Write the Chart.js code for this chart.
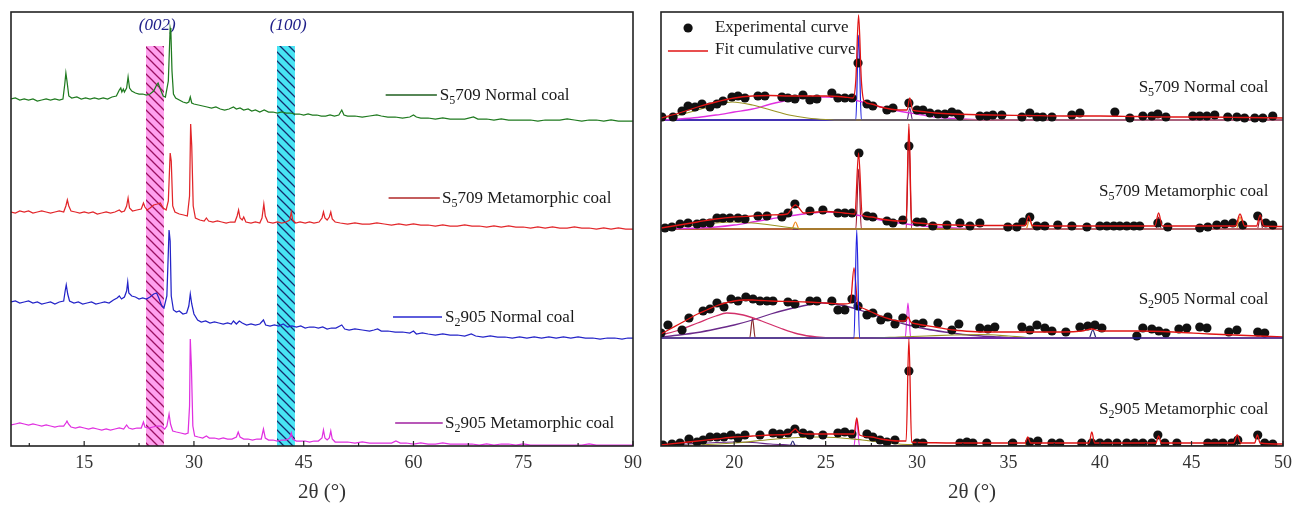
<!DOCTYPE html>
<html lang="en">
<head>
<meta charset="UTF-8">
<title>XRD patterns of coal samples</title>
<script src="https://cdn.jsdelivr.net/npm/chart.js"></script>
<style>
  body { margin: 0; background: #fff; }
  #wrap { position: relative; width: 1292px; height: 506px; }
  canvas { position: absolute; top: 0; }
  #left { left: 0; }
  #right { left: 640px; }
</style>
</head>
<body>
<div id="wrap">
  <canvas id="left" width="645" height="506"></canvas>
  <canvas id="right" width="652" height="506"></canvas>
</div>
<script>
// ---------- data: left panel, [2θ, intensity (a.u., stacked)] ----------
const s5709Normal = [[5,347],[5.6,348],[6.2,346],[6.8,347],[7.4,346],[8,347],[8.6,345],[9.2,346],[9.8,347],[10.4,346],[11,347],[11.6,346],[12.1,347],[12.35,362],[12.5,373],[12.65,365],[12.9,350],[13.3,348],[14,349],[14.6,347],[15.2,348],[15.8,347],[16.4,348],[17,347],[17.6,348],[18.2,347],[18.8,349],[19.4,350],[19.8,356],[20.0,358],[20.15,354],[20.35,357],[20.5,354],[20.8,358],[21.0,369],[21.2,358],[21.5,355],[22,353],[22.5,352],[23,352],[23.5,351],[24,352],[24.5,355],[24.9,361],[25.1,363],[25.4,357],[25.8,350],[26.1,349],[26.5,365],[26.75,418],[26.85,414],[27.0,375],[27.2,352],[27.5,348],[28,346],[28.5,344],[29,343],[29.3,344],[29.5,349],[29.7,343],[30,342],[30.6,341],[31.2,340],[31.8,339],[32.4,338],[33,339],[33.6,337],[34.2,336],[34.8,337],[35.4,339],[35.8,337],[36.3,338],[36.8,336],[37.4,337],[37.9,335],[38.4,336],[39,334],[39.6,336],[40.2,334],[40.8,334],[41.4,333],[42,334],[42.6,333],[43.2,333],[43.8,332],[44.4,332],[45,331],[45.6,332],[46.2,331],[46.8,331],[47.4,330],[48,330],[48.6,331],[49.2,330],[49.8,331],[50.2,336],[50.5,331],[51,330],[52,330],[53,329],[54,330],[55,331],[55.6,330],[56.5,329],[57.5,329],[58.5,328],[59.5,329],[60,331],[60.4,329],[61,328],[62,328],[63,327],[64,328],[65,327],[66,327],[67,327],[68.2,329],[68.8,327],[70,327],[71,326],[72,327],[73,326],[74,326],[75,326],[76,326],[77,325],[78,326],[79,326],[80,326],[81,327],[82,326],[83,325],[84,326],[85,326],[86,325],[87,326],[88,325],[89,325],[90,325]];
const s5709Meta = [[5,234],[5.6,233],[6.2,235],[6.8,234],[7.4,235],[8,233],[8.6,234],[9.2,235],[9.8,234],[10.4,233],[11,234],[11.6,235],[12.2,234],[12.5,240],[12.7,246],[12.9,240],[13.2,235],[13.8,234],[14.4,233],[15,234],[15.6,233],[16.2,234],[16.8,232],[17.4,233],[18,234],[18.6,233],[19.2,234],[19.8,236],[20.1,234],[20.5,235],[20.8,240],[21.0,248],[21.2,238],[21.6,235],[22.2,236],[22.8,237],[23.1,243],[23.3,239],[23.6,236],[24,238],[24.5,241],[25,242],[25.4,243],[25.8,238],[26.2,236],[26.5,245],[26.75,293],[26.9,285],[27.1,240],[27.4,234],[28,232],[28.6,231],[29.1,230],[29.4,250],[29.55,322],[29.7,300],[29.9,240],[30.2,228],[30.8,226],[31.4,225],[31.7,228],[32,225],[32.6,224],[33.2,225],[33.8,224],[34.4,223],[35,224],[35.6,224],[35.9,230],[36.1,236],[36.3,228],[36.6,226],[36.8,229],[37.1,224],[37.8,223],[38.4,224],[39,223],[39.3,228],[39.55,242],[39.75,230],[40.1,224],[40.8,223],[41.4,224],[42,223],[42.6,224],[43.1,226],[43.3,234],[43.5,226],[43.9,223],[44.5,224],[45.2,223],[45.8,224],[46.4,223],[47.1,224],[47.5,228],[47.7,234],[47.9,228],[48.2,226],[48.5,229],[48.7,234],[48.9,227],[49.3,224],[50,223],[51,222],[52,223],[53,222],[54,222],[55,223],[56,222],[57,221],[58,222],[59,221],[60,222],[61,221],[62,221],[63,220],[64,221],[65,220],[66,220],[67,221],[68,220],[69,220],[70,219],[71,220],[72,219],[73,220],[74,219],[75,219],[76,218],[77,219],[78,218],[79,219],[80,218],[81,218],[82,219],[83,218],[84,218],[85,217],[86,218],[87,217],[88,218],[89,217],[90,217]];
const s2905Normal = [[5,144],[5.6,145],[6.2,143],[6.8,144],[7.4,145],[8,143],[8.6,144],[9.2,142],[9.8,143],[10.4,144],[11,142],[11.6,144],[12.2,145],[12.4,155],[12.55,161],[12.75,152],[13,145],[13.6,143],[14.2,144],[14.8,142],[15.4,143],[16,144],[16.6,142],[17.2,143],[17.8,144],[18.4,143],[19,146],[19.5,148],[19.8,150],[20.1,147],[20.5,149],[20.8,155],[20.95,164],[21.1,153],[21.5,150],[22,149],[22.5,147],[23,148],[23.5,147],[24,149],[24.5,152],[24.9,153],[25.2,148],[25.6,140],[25.9,138],[26.3,150],[26.6,216],[26.75,205],[26.9,150],[27.2,136],[27.6,134],[28,135],[28.5,132],[29,133],[29.3,140],[29.5,152],[29.7,142],[30,132],[30.5,126],[31,124],[31.6,125],[32.2,123],[32.8,124],[33.4,123],[34,122],[34.6,123],[35.1,122],[35.4,125],[35.8,122],[36.2,125],[36.6,123],[37.2,121],[37.8,122],[38.4,121],[39,122],[39.5,126],[39.8,121],[40.4,120],[41,121],[41.6,120],[42.2,122],[42.8,119],[43.4,120],[44,119],[44.6,120],[45.2,118],[45.8,119],[46.4,119],[47,118],[47.6,119],[48.2,117],[48.8,118],[49.4,118],[50.2,121],[50.6,117],[51.2,116],[52,117],[53,116],[54,115],[54.6,116],[55.1,117],[55.6,115],[56.5,115],[57.5,114],[58.5,114],[59.5,113],[60,115],[60.4,112],[61.2,113],[62,112],[63,111],[64,112],[65,111],[66,111],[67,110],[67.9,112],[68.5,110],[69.5,109],[70.5,110],[71.5,109],[72.5,109],[73.5,108],[74.5,109],[75.5,108],[76.5,109],[77.5,108],[78.5,109],[79.5,108],[80.5,109],[81.5,108],[82.5,109],[83.5,108],[84.5,108],[85.5,107],[86.5,108],[87.5,108],[88.5,107],[89.3,108],[90,108]];
const s2905Meta = [[5,21],[5.6,22],[6.2,23],[6.8,22],[7.4,21],[8,22],[8.6,21],[9.2,20],[9.8,21],[10.4,20],[11,19],[11.6,20],[12.2,20],[12.5,23],[12.65,25],[12.85,22],[13.2,19],[13.8,18],[14.4,19],[15,18],[15.6,17],[16.2,18],[16.8,17],[17.4,16],[18,17],[18.6,16],[19.2,17],[19.8,18],[20.4,17],[20.8,21],[21.1,18],[21.6,17],[22.2,18],[22.8,18],[23.1,24],[23.3,19],[23.8,18],[24.4,19],[25,20],[25.5,20],[26,17],[26.3,20],[26.6,32],[26.8,22],[27.1,15],[27.6,14],[28.2,13],[28.8,12],[29.2,13],[29.4,40],[29.5,107],[29.65,80],[29.85,20],[30.1,10],[30.6,9],[31.2,8],[31.7,10],[32.1,8],[32.8,8],[33.4,7],[34,8],[34.6,7],[35.2,7],[35.8,9],[36.05,14],[36.3,9],[36.8,7],[37.4,7],[38,6],[38.6,7],[39.2,7],[39.5,17],[39.75,8],[40.2,6],[40.8,6],[41.4,5],[42,6],[42.6,6],[43.1,8],[43.3,13],[43.5,7],[44,5],[44.6,5],[45.2,5],[45.8,4],[46.4,5],[47,5],[47.5,8],[47.7,16],[47.9,8],[48.2,6],[48.5,8],[48.7,15],[48.9,7],[49.3,4],[50,4],[51,4],[52,3],[53,4],[54,3],[55,3],[56,3],[57,3],[57.6,5],[58.2,3],[59,3],[60,2],[61,3],[62,2],[63,2],[64,3],[65,2],[66,2],[67,2],[68,2],[69,1],[70,2],[71,1],[72,2],[73,2],[74,1],[75,2],[76,1],[77,1],[78,1],[79,1],[80,1],[81,1],[82,1],[83,1],[84,2],[85,1],[86,1],[87,1],[88,1],[89,1],[90,1]];

const leftMajorTicks = [15, 30, 45, 60, 75, 90];
const leftMinorTicks = [7.5, 22.5, 37.5, 52.5, 67.5, 82.5];
const bandRanges = [[23.45, 25.9], [41.35, 43.8]];
const bandNames = ['(002)', '(100)'];
const bandTop = 400;

// ---------- data: right panel, [2θ, intensity above the sub-plot baseline] ----------
const baseOffsets = [326, 217, 108, 0];
const sampleSub = ['5', '5', '2', '2'];
const sampleRest = ['709 Normal coal', '709 Metamorphic coal', '905 Normal coal', '905 Metamorphic coal'];

// S5709 normal coal
const n1Exp = [[16.05,3],[16.66,3],[17.15,9],[17.48,14],[17.86,13],[18.24,16],[18.68,13],[19.06,16],[19.39,19],[19.88,23],[20.21,24],[20.59,22],[21.3,24],[21.68,24],[22.61,23],[22.94,22],[23.32,21],[23.76,25],[24.14,20],[24.52,21],[25.34,27],[25.67,22],[26.05,22],[26.44,22],[26.77,57],[27.26,16],[27.58,14],[28.35,10],[28.68,12],[29.55,17],[29.99,10],[30.32,10],[30.7,7],[31.14,6],[31.52,6],[31.9,8],[32.23,6],[32.34,4],[33.43,4],[33.81,4],[34.14,5],[34.63,5],[35.73,3],[36.16,7],[36.55,3],[36.87,3],[37.37,3],[38.46,5],[38.9,7],[40.81,8],[41.63,2],[42.34,4],[42.83,4],[43.16,6],[43.6,3],[45.07,4],[45.45,4],[45.84,4],[46.27,5],[46.98,3],[47.48,3],[47.9,2],[48.46,2],[48.9,2],[49.44,4]];
const n1Fit = [[16,2],[17,7],[18,13],[19,18],[20,22],[21,24],[22,24.5],[23,24],[24,24],[25,24],[26,23],[26.5,22],[26.65,40],[26.8,105],[26.95,40],[27.1,19],[27.5,16],[28,13],[29,10],[29.45,10],[29.6,22],[29.75,10],[30,9],[31,7],[32,6],[34,5],[36,4.5],[38,4],[40,4],[42,3.5],[44,3],[46,3],[48,2.5],[50,2]];
const n1Olive = [[16,2],[17,5],[18,10],[19,15],[19.9,18],[21,15],[22,10],[23,5],[24,2],[25,0.5],[26,0],[50,0]];
const n1Magenta = [[16,0],[17,1],[18,2.5],[19,5],[20,8],[21,11],[22,16],[23,20],[24,22.5],[25,23],[26,22],[27,18],[28,13],[29,9],[30,6],[31,3],[32,1.5],[33,0.5],[34,0],[50,0]];
const n1Blue = [[16,0],[26.65,0],[26.8,85],[26.95,0],[50,0]];
const n1Purple = [[16,0],[29.45,0],[29.6,12],[29.75,0],[50,0]];

// S5709 metamorphic coal
const m1Exp = [[16.22,1],[16.6,2],[17.04,5],[17.48,6],[17.97,5],[18.3,6],[18.68,6],[19.06,11],[19.39,11],[19.77,11],[20.21,11],[20.59,10],[21.3,13],[21.79,13],[22.61,12],[22.94,16],[23.32,25],[24.14,18],[24.85,19],[25.67,16],[26.05,16],[26.44,16],[26.82,76],[27.26,13],[27.58,12],[28.35,8],[28.68,6],[29.22,9],[29.55,83],[29.99,7],[30.32,7],[30.86,3],[31.63,4],[32.34,6],[32.89,3],[33.43,6],[34.96,2],[35.45,2],[35.78,7],[36.16,12],[36.55,3],[36.98,3],[37.69,4],[38.46,3],[39.28,2],[39.99,3],[40.37,3],[40.75,3],[41.08,3],[41.46,3],[41.85,3],[42.17,3],[43.16,6],[43.7,2],[45.45,1],[45.89,2],[46.38,4],[46.82,5],[47.26,6],[47.8,4],[48.62,13],[49.06,6],[49.44,4]];
const m1Fit = [[16,1],[17,4],[18,7],[19,10],[20,12],[21,13],[22,14],[22.9,15],[23.2,22],[23.35,24],[23.5,22],[23.8,16],[24.5,17],[25,17.5],[26,16],[26.6,15],[26.8,76],[27.0,14],[27.5,12],[28,10],[29,8],[29.4,8],[29.55,105],[29.7,8],[30,6],[31,4.5],[32,4],[34,3.5],[35.9,3.5],[36.1,13],[36.3,3.5],[38,3],[43,3],[43.2,16],[43.4,3],[47.4,3],[47.65,15],[47.9,3],[48.55,3],[48.75,14],[48.95,3],[50,2.5]];
const m1Olive = [[16,0.5],[17,2],[18,4],[19,6],[20,7],[21,6],[22,4],[23,1.5],[23.5,0.5],[24,0],[50,0]];
const m1Magenta = [[16,0],[18,1],[19,2],[20,4],[21,7],[22,10],[23,13],[24,15.5],[25,17],[26,16],[27,13],[28,9],[29,6],[30,3.5],[31,2],[32,1],[34,0],[50,0]];
const m1Orange = [[16,0],[23.15,0],[23.35,7],[23.55,0],[35.95,0],[36.15,9],[36.35,0],[47.45,0],[47.65,12],[47.85,0],[50,0]];
const m1Crimson = [[16,0],[26.65,0],[26.8,60],[26.95,0],[29.4,0],[29.55,95],[29.7,0],[43.05,0],[43.2,12],[43.35,0],[48.6,0],[48.75,11],[48.9,0],[50,0]];

// S2905 normal coal
const n2Exp = [[16.0,5],[16.38,13],[17.15,8],[17.53,20],[18.3,27],[18.68,29],[19.06,35],[19.44,31],[19.83,39],[20.21,37],[20.64,41],[21.03,39],[21.41,37],[21.79,37],[22.12,37],[22.94,36],[23.32,34],[24.14,37],[24.52,37],[25.34,37],[25.67,28],[26.05,28],[26.44,39],[26.77,32],[27.26,23],[27.58,25],[28.02,18],[28.4,21],[28.79,14],[29.22,20],[29.93,14],[30.32,15],[31.14,15],[31.9,8],[32.28,14],[33.43,10],[33.87,9],[34.25,11],[35.73,11],[36.16,8],[36.55,13],[36.98,10],[37.37,7],[38.13,6],[38.9,11],[39.33,12],[39.72,13],[40.1,10],[42.01,2],[42.34,10],[42.83,9],[43.21,7],[43.6,5],[44.31,9],[44.74,10],[45.45,11],[45.84,10],[47.04,6],[47.48,8],[48.62,6],[49.0,5]];
const n2Fit = [[16,4],[16.5,9],[17,14],[17.5,19],[18,24],[18.5,28],[19,32],[19.5,35],[20,37],[20.5,38],[21,38],[21.5,37.5],[22,37],[23,36.5],[24,36],[25,35],[26,34],[26.35,35],[26.55,70],[26.75,34],[27,30],[27.5,26],[28,22],[28.5,19],[29,17],[29.35,17],[29.5,21],[29.65,16],[30,14],[31,11],[32,8],[33,6.5],[34,6],[36,6],[38,6],[39,7],[39.55,9],[40,7],[42,7],[44,6],[46,4],[48,2.5],[50,1]];
const n2Crimson = [[16,3],[17,8],[18,15],[19,22],[19.6,25],[20.5,23],[21.5,17],[22.5,10],[23.5,4],[24.5,1],[25.5,0],[50,0]];
const n2Purple = [[16,1],[17,3],[18,5.5],[19,9],[20,13],[21,18],[22,24],[23,29],[24,33],[24.8,35],[25.5,34],[26.5,30],[27.5,24],[28.5,18],[29.5,13],[30.5,9],[31.5,6],[32.5,3.5],[33.5,2],[34.5,1],[35.5,0],[50,0]];
const n2Brown = [[16,0],[20.85,0],[21.0,20],[21.15,0],[50,0]];
const n2Blue = [[16,0],[26.55,0],[26.7,108],[26.85,0],[50,0]];
const n2Magenta = [[16,0],[29.35,0],[29.5,35],[29.65,0],[50,0]];
const n2Olive = [[16,0],[27.5,0],[29,1],[30.5,2],[32,3],[33.5,3.5],[35,2],[36,0.5],[37,0],[50,0]];
const n2Navy = [[16,0],[39.4,0],[39.6,8],[39.8,0],[50,0]];

// S2905 metamorphic coal
const m2Exp = [[16.11,1],[16.6,2],[17.04,3],[17.53,7],[17.97,4],[18.3,6],[18.68,9],[19.06,9],[19.44,9],[19.83,11],[20.21,8],[20.59,11],[21.41,11],[22.12,13],[22.5,12],[22.94,13],[23.32,17],[23.76,13],[24.14,11],[24.85,11],[25.67,13],[26.05,14],[26.44,12],[27.26,12],[27.58,9],[27.97,6],[28.35,4],[28.79,6],[29.55,75],[29.99,3],[30.32,3],[32.34,3],[32.72,4],[33.05,3],[33.81,3],[35.23,3],[36.16,4],[36.6,5],[37.37,3],[37.8,3],[39.0,3],[39.55,3],[39.99,3],[40.43,3],[40.92,3],[41.46,3],[41.9,3],[42.34,3],[42.83,3],[43.16,11],[43.54,3],[44.2,3],[45.89,3],[46.27,3],[46.71,3],[47.2,3],[47.53,6],[48.62,11],[49.0,3],[49.44,2]];
const m2Fit = [[16,1],[17,3],[18,5],[19,7],[20,9],[21,10],[22,11],[23,12],[23.2,15],[23.35,17],[23.5,14],[24,12],[25,12],[26,12],[26.55,12],[26.7,28],[26.85,11],[27.5,9],[28,7],[29,5],[29.4,5],[29.55,107],[29.7,4],[30,3.5],[32,3],[35.9,3],[36.05,9],[36.2,3],[39.4,3],[39.55,14],[39.7,3],[43.05,3],[43.2,10],[43.35,3],[47.3,3],[47.5,11],[47.7,3],[48.45,3],[48.6,11],[48.75,3],[50,2]];
const m2Olive = [[16,0],[18,1],[20,3],[22,6.5],[23.5,8.5],[24.5,9],[25.5,8.5],[27,6],[28,4],[29,2],[30,1],[31,0],[50,0]];
const m2Purple = [[16,0.5],[17.5,2],[19,3.5],[20,4],[21,3.5],[22,2],[23,1],[24,0],[50,0]];
const m2Magenta = [[16,0],[26.55,0],[26.7,26],[26.85,0],[50,0]];
const m2Navy = [[16,0],[23.05,0],[23.2,5],[23.35,0],[50,0]];
const m2Orange = [[16,0],[35.9,0],[36.05,8],[36.2,0],[47.3,0],[47.5,10],[47.7,0],[50,0]];

const rightMajorTicks = [20, 25, 30, 35, 40, 45, 50];
const rightMinorTicks = [17.5, 22.5, 27.5, 32.5, 37.5, 42.5, 47.5];

// ---------- helpers ----------
const FONT = '"Liberation Serif", "Times New Roman", serif';
const TXT = '#1a1a1a';

function drawSampleLabel(ctx, sub, rest, x, y, align) {
  const big = '17px ' + FONT, small = '12px ' + FONT;
  ctx.font = big;
  const wS = ctx.measureText('S').width, wR = ctx.measureText(rest).width;
  ctx.font = small;
  const wSub = ctx.measureText(sub).width;
  const x0 = align === 'right' ? x - (wS + wSub + wR) : x;
  ctx.fillStyle = TXT;
  ctx.textAlign = 'left';
  ctx.textBaseline = 'middle';
  ctx.font = big; ctx.fillText('S', x0, y);
  ctx.font = small; ctx.fillText(sub, x0 + wS, y + 5);
  ctx.font = big; ctx.fillText(rest, x0 + wS + wSub, y);
}

function frameAndTicks(major, minor) {
  return {
    id: 'frameAndTicks',
    afterDatasetsDraw(chart) {
      const { ctx, chartArea: a, scales: { x } } = chart;
      ctx.save();
      ctx.strokeStyle = '#222';
      ctx.lineWidth = 1.2;
      ctx.beginPath();
      major.forEach(v => { const p = x.getPixelForValue(v); ctx.moveTo(p, a.bottom); ctx.lineTo(p, a.bottom - 5); });
      minor.forEach(v => { const p = x.getPixelForValue(v); ctx.moveTo(p, a.bottom); ctx.lineTo(p, a.bottom - 3); });
      ctx.stroke();
      ctx.lineWidth = 1.6;
      ctx.strokeRect(a.left, a.top, a.right - a.left, a.bottom - a.top);
      ctx.restore();
    }
  };
}

function xScale(min, max, major) {
  return {
    type: 'linear', min, max,
    grid: { display: false, drawTicks: false },
    border: { display: false },
    afterBuildTicks: s => { s.ticks = major.map(v => ({ value: v })); },
    afterFit: s => { s.height = 60; s.paddingLeft = 0; s.paddingRight = 0; },
    ticks: { font: { family: FONT, size: 18 }, color: '#333', padding: 6, autoSkip: false, maxRotation: 0 },
    title: { display: true, text: '2θ (°)', font: { family: FONT, size: 21 }, color: '#333', padding: { top: 0, bottom: 1 } }
  };
}

// ---------- left chart ----------
const leftSeries = [
  { data: s5709Normal, color: '#1f7a1f', key: '#1f5f1f' },
  { data: s5709Meta, color: '#e2262a', key: '#b02828' },
  { data: s2905Normal, color: '#2424c8', key: '#2828d0' },
  { data: s2905Meta, color: '#e030e0', key: '#a020a0' }
];
const leftKeyPos = [
  { line: [56.2, 63.2], y: 351, tx: 63.6 },
  { line: [56.6, 63.6], y: 248, tx: 63.9 },
  { line: [57.2, 63.9], y: 129, tx: 64.3 },
  { line: [57.5, 64.0], y: 23, tx: 64.3 }
];
const bandStyle = [
  { fill: '#ffa0ee', stroke: '#9a1060' },
  { fill: '#48e4f4', stroke: '#142c6c' }
];

function hatchTile(fill, stroke) {
  const n = 9;
  const c = document.createElement('canvas');
  c.width = n; c.height = n;
  const g = c.getContext('2d');
  g.fillStyle = fill; g.fillRect(0, 0, n, n);
  g.strokeStyle = stroke; g.lineWidth = 1.3;
  g.beginPath();
  g.moveTo(-1, -1); g.lineTo(n + 1, n + 1);
  g.moveTo(-1, n - 1); g.lineTo(1, n + 1);
  g.moveTo(n - 1, -1); g.lineTo(n + 1, 1);
  g.stroke();
  return c;
}

const leftDecor = {
  id: 'leftDecor',
  beforeDatasetsDraw(chart) {
    const { ctx, chartArea: a, scales: { x, y } } = chart;
    ctx.save();
    bandRanges.forEach((b, i) => {
      const x1 = x.getPixelForValue(b[0]), x2 = x.getPixelForValue(b[1]);
      const yt = y.getPixelForValue(bandTop);
      ctx.fillStyle = ctx.createPattern(hatchTile(bandStyle[i].fill, bandStyle[i].stroke), 'repeat');
      ctx.fillRect(x1, yt, x2 - x1, a.bottom - yt);
      ctx.fillStyle = '#20208a';
      ctx.font = 'italic 17px ' + FONT;
      ctx.textAlign = 'center';
      ctx.textBaseline = 'middle';
      ctx.fillText(bandNames[i], x.getPixelForValue((b[0] + b[1]) / 2 + 0.3), y.getPixelForValue(420));
    });
    ctx.restore();
  },
  afterDatasetsDraw(chart) {
    const { ctx, scales: { x, y } } = chart;
    ctx.save();
    leftKeyPos.forEach((k, i) => {
      ctx.strokeStyle = leftSeries[i].key;
      ctx.lineWidth = 1.4;
      ctx.beginPath();
      ctx.moveTo(x.getPixelForValue(k.line[0]), y.getPixelForValue(k.y));
      ctx.lineTo(x.getPixelForValue(k.line[1]), y.getPixelForValue(k.y));
      ctx.stroke();
      drawSampleLabel(ctx, sampleSub[i], sampleRest[i], x.getPixelForValue(k.tx), y.getPixelForValue(k.y - 1), 'left');
    });
    ctx.restore();
  }
};

new Chart(document.getElementById('left'), {
  type: 'scatter',
  data: {
    datasets: leftSeries.map(s => ({
      data: s.data.map(([x, y]) => ({ x, y })),
      showLine: true, borderColor: s.color, borderWidth: 1.25, pointRadius: 0, tension: 0
    }))
  },
  options: {
    responsive: false, animation: false,
    layout: { padding: { left: 11, right: 12, top: 12, bottom: 0 } },
    plugins: { legend: { display: false }, tooltip: { enabled: false } },
    scales: { x: xScale(5, 90, leftMajorTicks), y: { display: false, min: 0, max: 434 } }
  },
  plugins: [leftDecor, frameAndTicks(leftMajorTicks, leftMinorTicks)]
});

// ---------- right chart ----------
const curve = (arr, k, color, width, order) => ({
  data: arr.map(([x, h]) => ({ x, y: h + baseOffsets[k] })),
  showLine: true, borderColor: color, borderWidth: width, pointRadius: 0,
  tension: 0.4, cubicInterpolationMode: 'monotone', order
});
const dots = (arr, k) => ({
  data: arr.map(([x, h]) => ({ x, y: h + baseOffsets[k] })),
  showLine: false, pointRadius: 4.6, pointBackgroundColor: '#111', pointBorderWidth: 0, order: 1
});

const C = { fit: '#e01414', olive: '#9a9424', magenta: '#e030e0', blue: '#2222e0', purple: '#6a2a8a',
  crimson: '#d2306a', brown: '#8a2a2a', orange: '#f08a20', navy: '#2a2a7a' };

const rightDatasets = [
  curve(n1Olive, 0, C.olive, 1.2, 2), curve(n1Magenta, 0, C.magenta, 1.3, 2),
  curve(n1Blue, 0, C.blue, 1.2, 2), curve(n1Purple, 0, C.purple, 1.2, 2),
  dots(n1Exp, 0), curve(n1Fit, 0, C.fit, 1.3, 0),

  curve(m1Olive, 1, C.olive, 1.2, 2), curve(m1Magenta, 1, C.magenta, 1.3, 2),
  curve(m1Orange, 1, C.orange, 1.2, 2), curve(m1Crimson, 1, '#a01830', 1.2, 2),
  dots(m1Exp, 1), curve(m1Fit, 1, C.fit, 1.3, 0),

  curve(n2Olive, 2, C.olive, 1.2, 2), curve(n2Crimson, 2, C.crimson, 1.3, 2),
  curve(n2Purple, 2, C.purple, 1.3, 2), curve(n2Brown, 2, C.brown, 1.2, 2),
  curve(n2Magenta, 2, C.magenta, 1.2, 2), curve(n2Navy, 2, C.navy, 1.2, 2),
  dots(n2Exp, 2), curve(n2Fit, 2, C.fit, 1.3, 0), curve(n2Blue, 2, C.blue, 1.2, -1),

  curve(m2Olive, 3, C.olive, 1.2, 2), curve(m2Purple, 3, C.purple, 1.2, 2),
  curve(m2Magenta, 3, C.magenta, 1.2, 2), curve(m2Navy, 3, C.navy, 1.2, 2),
  curve(m2Orange, 3, C.orange, 1.2, 2),
  dots(m2Exp, 3), curve(m2Fit, 3, C.fit, 1.3, 0)
];

const rightLabelPos = { x: 49.2, y: [358, 254, 146, 36] };
const legendPos = { dot: [17.48, 418], line: [16.38, 18.57, 395], tx: 18.95 };

const rightDecor = {
  id: 'rightDecor',
  beforeDatasetsDraw(chart) {
    const { ctx, chartArea: a, scales: { y } } = chart;
    ctx.save();
    ctx.strokeStyle = '#2a2a5a';
    ctx.lineWidth = 1.5;
    ctx.beginPath();
    baseOffsets.slice(0, 3).forEach(o => {
      const p = y.getPixelForValue(o);
      ctx.moveTo(a.left, p); ctx.lineTo(a.right, p);
    });
    ctx.stroke();
    ctx.restore();
  },
  afterDatasetsDraw(chart) {
    const { ctx, scales: { x, y } } = chart;
    ctx.save();
    rightLabelPos.y.forEach((v, i) => {
      drawSampleLabel(ctx, sampleSub[i], sampleRest[i], x.getPixelForValue(rightLabelPos.x), y.getPixelForValue(v), 'right');
    });
    // legend
    ctx.fillStyle = '#111';
    ctx.beginPath();
    ctx.arc(x.getPixelForValue(legendPos.dot[0]), y.getPixelForValue(legendPos.dot[1]), 4.6, 0, Math.PI * 2);
    ctx.fill();
    ctx.strokeStyle = C.fit;
    ctx.lineWidth = 1.3;
    ctx.beginPath();
    ctx.moveTo(x.getPixelForValue(legendPos.line[0]), y.getPixelForValue(legendPos.line[2]));
    ctx.lineTo(x.getPixelForValue(legendPos.line[1]), y.getPixelForValue(legendPos.line[2]));
    ctx.stroke();
    ctx.fillStyle = TXT;
    ctx.font = '17px ' + FONT;
    ctx.textAlign = 'left';
    ctx.textBaseline = 'middle';
    ctx.fillText('Experimental curve', x.getPixelForValue(legendPos.tx), y.getPixelForValue(legendPos.dot[1]));
    ctx.fillText('Fit cumulative curve', x.getPixelForValue(legendPos.tx), y.getPixelForValue(legendPos.line[2] + 1));
    ctx.restore();
  }
};

new Chart(document.getElementById('right'), {
  type: 'scatter',
  data: { datasets: rightDatasets },
  options: {
    responsive: false, animation: false,
    layout: { padding: { left: 21, right: 9, top: 12, bottom: 0 } },
    plugins: { legend: { display: false }, tooltip: { enabled: false } },
    scales: { x: xScale(16, 50, rightMajorTicks), y: { display: false, min: 0, max: 434 } }
  },
  plugins: [rightDecor, frameAndTicks(rightMajorTicks, rightMinorTicks)]
});
</script>
</body>
</html>
